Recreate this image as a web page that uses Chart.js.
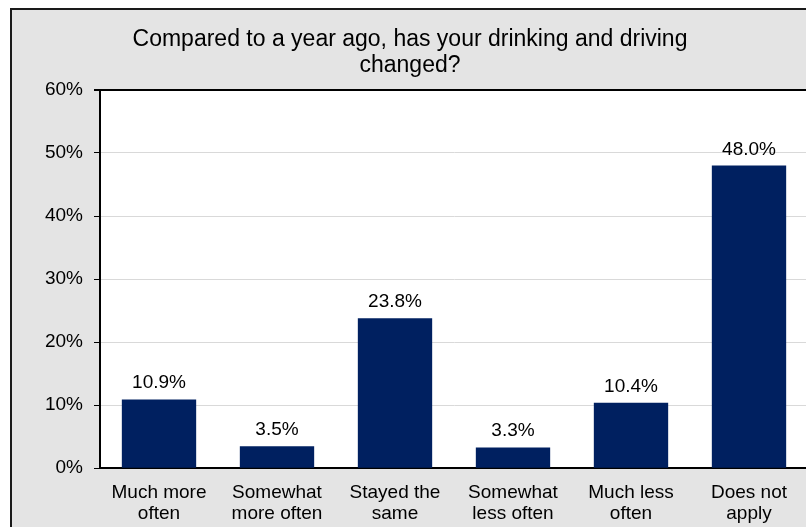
<!DOCTYPE html>
<html>
<head>
<meta charset="utf-8">
<script src="https://cdn.jsdelivr.net/npm/chart.js@4"></script>
<style>
  html, body { margin: 0; padding: 0; background: #fff; overflow: hidden; width: 806px; height: 527px; }
  #box { position: absolute; left: 10px; top: 8px; border: 2px solid #1a1a1a; background: #e4e4e4; width: 808px; height: 540px; }
  canvas { display: block; }
</style>
</head>
<body>
<div id="box"><canvas id="grafico" width="808" height="540"></canvas></div>
<script>
// Dados do gráfico
const categorias = [
  ['Much more', 'often'],
  ['Somewhat', 'more often'],
  ['Stayed the', 'same'],
  ['Somewhat', 'less often'],
  ['Much less', 'often'],
  ['Does not', 'apply']
];
const valores = [10.9, 3.5, 23.8, 3.3, 10.4, 48.0];
const marcasY = [0, 10, 20, 30, 40, 50, 60];

const fonte = "'Liberation Sans', Arial, sans-serif";

// Fundo branco da área do gráfico
const fundoArea = {
  id: 'fundoArea',
  beforeDraw(chart) {
    const a = chart.chartArea;
    const ctx = chart.ctx;
    ctx.save();
    ctx.fillStyle = '#ffffff';
    ctx.fillRect(a.left, a.top, a.right - a.left, a.bottom - a.top);
    ctx.restore();
  }
};

// Rótulos de valor acima das barras
const rotulos = {
  id: 'rotulos',
  afterDatasetsDraw(chart) {
    const ctx = chart.ctx;
    const meta = chart.getDatasetMeta(0);
    ctx.save();
    ctx.font = '19px ' + fonte;
    ctx.fillStyle = '#000';
    ctx.textAlign = 'center';
    ctx.textBaseline = 'alphabetic';
    meta.data.forEach((bar, i) => {
      ctx.fillText(valores[i].toFixed(1) + '%', bar.x, bar.y - 11);
    });
    ctx.restore();
  }
};

const ctx = document.getElementById('grafico').getContext('2d');
const grafico = new Chart(ctx, {
  type: 'bar',
  data: {
    labels: categorias,
    datasets: [{
      data: valores,
      backgroundColor: '#002060',
      categoryPercentage: 1,
      barPercentage: 0.63
    }]
  },
  options: {
    responsive: false,
    animation: false,
    layout: { padding: { left: 0, right: 12, top: 0, bottom: 12 } },
    plugins: {
      legend: { display: false },
      tooltip: { enabled: false },
      title: {
        display: true,
        text: ['Compared to a year ago, has your drinking and driving', 'changed?'],
        color: '#000',
        font: { family: fonte, size: 23, weight: 'normal', lineHeight: 1.15 },
        padding: { top: 16, bottom: 11 }
      }
    },
    scales: {
      x: {
        grid: { display: true, drawOnChartArea: false, drawTicks: false },
        border: { color: '#000', width: 2 },
        ticks: { color: '#000', font: { family: fonte, size: 19, lineHeight: 1.1 }, padding: 14, maxRotation: 0, autoSkip: false }
      },
      y: {
        min: 0,
        max: 60,
        afterFit(scale) { scale.width = 88; },
        afterBuildTicks(scale) { scale.ticks = marcasY.map(v => ({ value: v })); },
        grid: {
          color: c => (c.tick && c.tick.value === 60) ? '#000' : '#d9d9d9',
          lineWidth: c => (c.tick && c.tick.value === 60) ? 2 : 1,
          tickColor: '#000',
          tickLength: 6
        },
        border: { color: '#000', width: 2 },
        ticks: {
          color: '#000',
          padding: 11,
          font: { family: fonte, size: 19 },
          callback: v => v + '%'
        }
      }
    }
  },
  plugins: [fundoArea, rotulos]
});
</script>
</body>
</html>
